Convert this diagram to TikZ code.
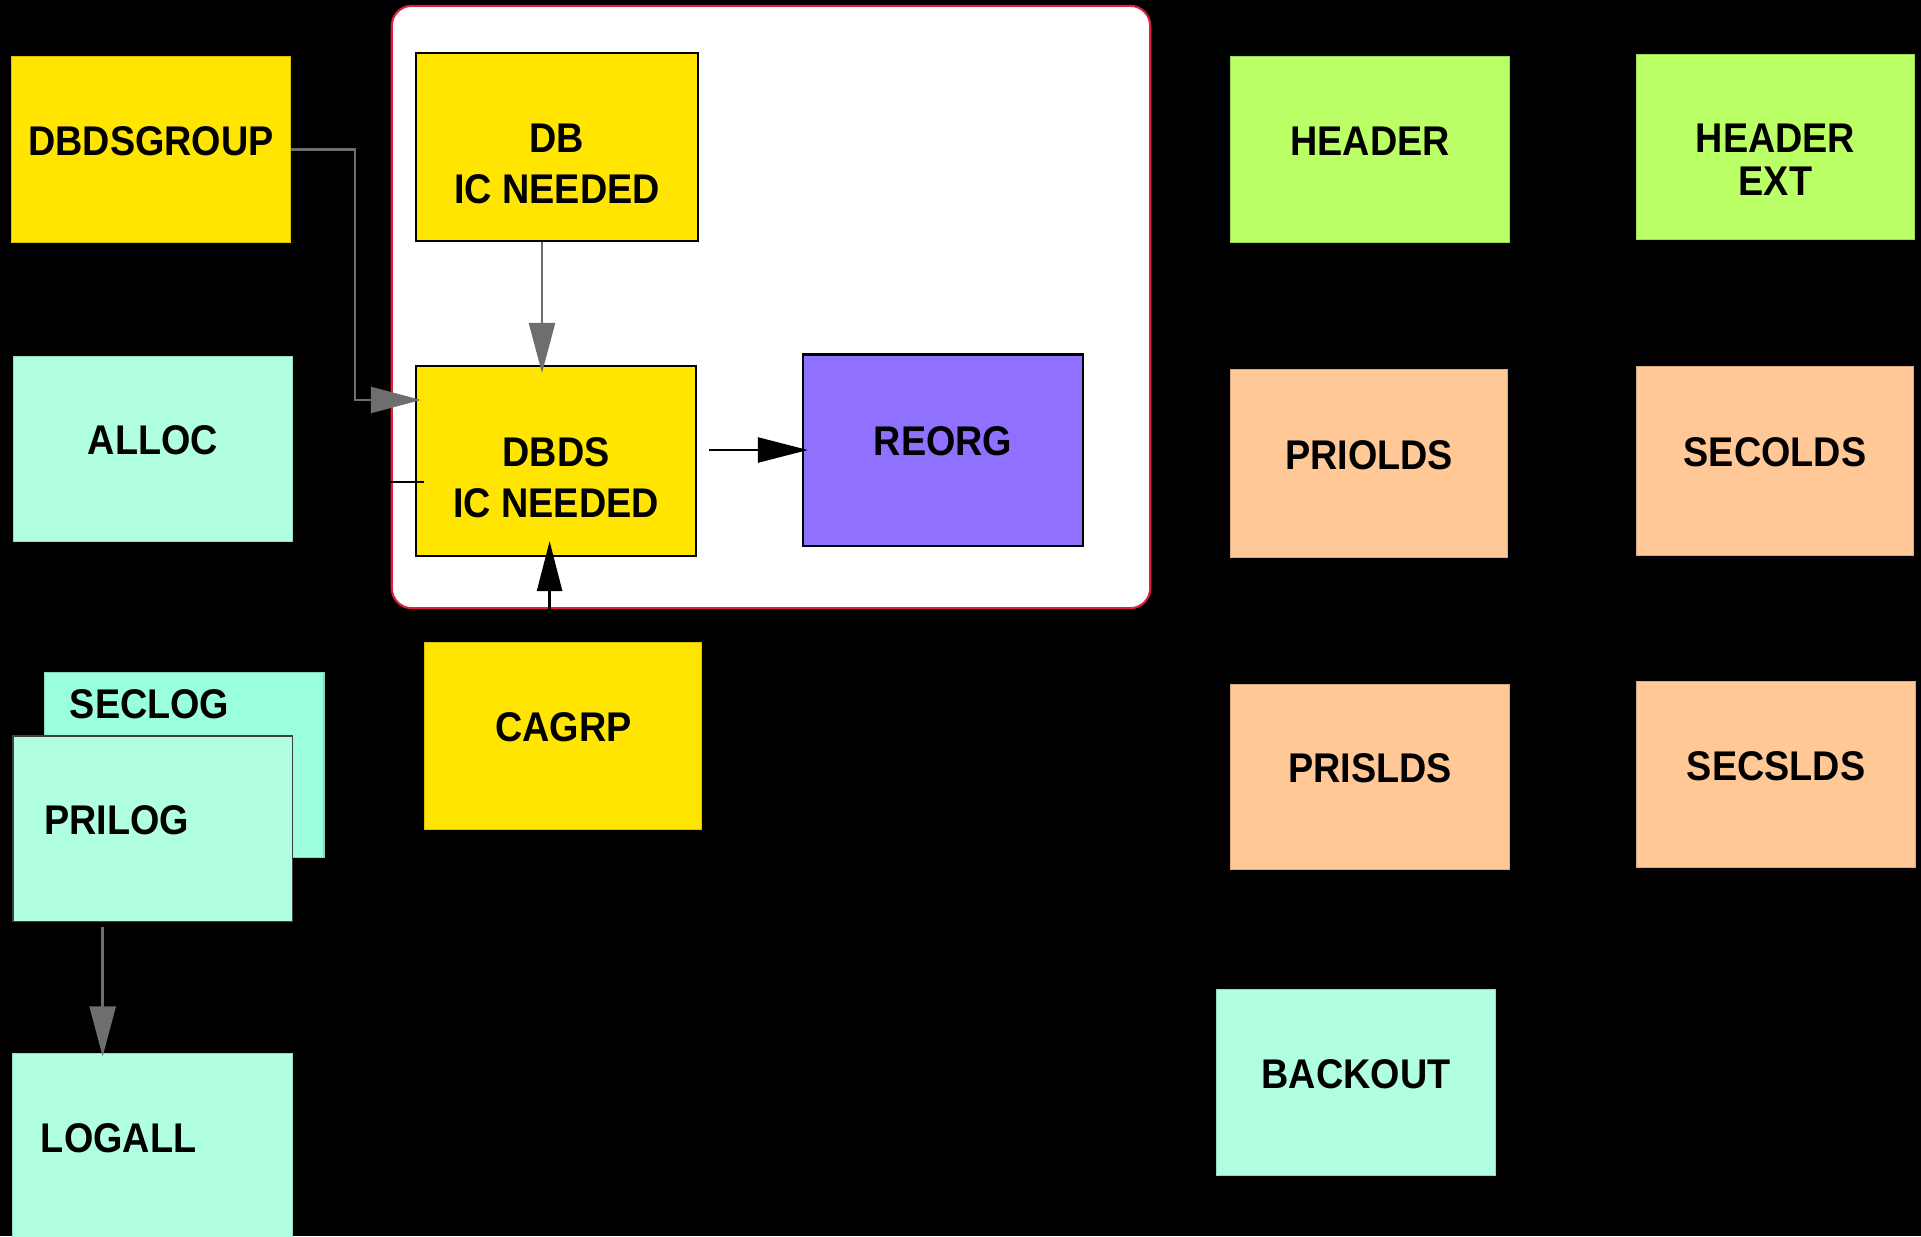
\documentclass[tikz,border=0pt]{standalone}
\usepackage{fontspec}
\setmainfont{Liberation Sans}[FakeStretch=0.91]
\usetikzlibrary{arrows.meta,positioning}

\definecolor{dsyellow}{HTML}{FFE500}
\definecolor{dsmint}{HTML}{B0FFE0}
\definecolor{dsmintdark}{HTML}{99FFDD}
\definecolor{dsgreen}{HTML}{BBFF66}
\definecolor{dspeach}{HTML}{FFC896}
\definecolor{dspurple}{HTML}{9070FF}
\definecolor{dsred}{HTML}{DD2040}
\definecolor{dsgray}{HTML}{6E6E6E}

\tikzset{
    blk/.style={rectangle, minimum width=2.78cm, minimum height=1.85cm, inner sep=0pt,
        font=\fontsize{11.8}{14.5}\selectfont\bfseries, align=center,
        text height=0.30cm, text depth=0.19cm},
    twoline/.style={text height=1.32cm},
    leftblk/.style={blk, align=left, inner xsep=0.31cm, text width=2.17cm},
    soft/.style={fill=#1, draw=#1!85!black, line width=0.3pt},
    hard/.style={fill=#1, draw=black, line width=0.6pt},
    grayarrow/.style={draw=dsgray, line width=0.7pt, -{Triangle[length=0.5cm, width=0.26cm]}},
    blkarrow/.style={draw=black, line width=0.7pt, -{Triangle[length=0.5cm, width=0.25cm]}},
    group/.style={rectangle, draw=dsred, fill=white, line width=0.6pt, rounded corners=0.2cm,
        minimum width=7.58cm, minimum height=6.02cm}
}

\begin{document}
\begin{tikzpicture}[x=0.01cm, y=-0.01cm]
    \path[use as bounding box, fill=black] (0,0) rectangle (1921,1236);

    % image copy group
    \node[group] (icgroup) at (771,307) {};

    \node[blk, soft=dsyellow] (dbdsgroup) at (151,149.5) {DBDSGROUP};
    \node[blk, twoline, hard=dsyellow, minimum width=2.82cm, minimum height=1.88cm] (dbic) at (557,146.7) {DB\\IC NEEDED};
    \node[blk, soft=dsmint] (alloc) at (153,449) {ALLOC};
    \node[blk, twoline, hard=dsyellow, minimum width=2.80cm, minimum height=1.90cm] (dbds) at (556,461) {DBDS\\IC NEEDED};
    \node[blk, hard=dspurple, minimum width=2.80cm, minimum height=1.91cm] (reorg) at (943,450) {REORG};
    \node[blk, soft=dsyellow, minimum width=2.77cm, minimum height=1.87cm] (cagrp) at (563.3,735.7) {CAGRP};

    % log data sets
    \node[leftblk, soft=dsmintdark, inner xsep=0.25cm, text width=2.29cm, text depth=1.24cm] (seclog) at (184.4,765.4) {SECLOG};
    \node[leftblk, fill=dsmint, draw=black!75, line width=0.4pt] (prilog) at (152.7,828.7) {PRILOG};
    \node[leftblk, soft=dsmint, inner xsep=0.28cm, text width=2.23cm] (logall) at (152.5,1146.5) {LOGALL};

    % header and ds records
    \node[blk, soft=dsgreen] (header) at (1370,149.5) {HEADER};
    \node[blk, soft=dsgreen, font=\fontsize{11.8}{12.4}\selectfont\bfseries, text height=1.17cm] (headerext) at (1775.5,146.7) {HEADER\\EXT};
    \node[blk, soft=dspeach, minimum width=2.76cm, minimum height=1.88cm] (priolds) at (1369,463.6) {PRIOLDS};
    \node[blk, soft=dspeach, minimum width=2.76cm, minimum height=1.88cm] (secolds) at (1775,461) {SECOLDS};
    \node[blk, soft=dspeach] (prislds) at (1370,777) {PRISLDS};
    \node[blk, soft=dspeach] (secslds) at (1776,774.5) {SECSLDS};
    \node[blk, soft=dsmint] (backout) at (1356,1082.5) {BACKOUT};

    \draw[grayarrow, shorten >=-0.06cm] (dbdsgroup.east) -- ++(64.5,0) |- ([yshift=0.61cm]dbds.west);
    \draw[grayarrow, shorten >=-0.08cm] ([xshift=-0.15cm]dbic.south) -- ([xshift=-0.15cm]dbic.south |- dbds.north);
    \draw[draw=black, line width=0.7pt, shorten >=-0.09cm] ([yshift=-0.33cm]alloc.east) -- ([yshift=-0.33cm]alloc.east -| dbds.west);
    \draw[blkarrow, shorten <=0.12cm, shorten >=-0.06cm] (dbds.east |- reorg.west) -- (reorg.west);
    \draw[blkarrow, shorten >=-0.16cm] ([xshift=-0.137cm]cagrp.north) -- ([xshift=-0.137cm]cagrp.north |- dbds.south);
    \draw[grayarrow, shorten <=0.05cm, shorten >=-0.03cm] ([xshift=-0.5cm]prilog.south) -- ([xshift=-0.5cm]prilog.south |- logall.north);
\end{tikzpicture}
\end{document}
